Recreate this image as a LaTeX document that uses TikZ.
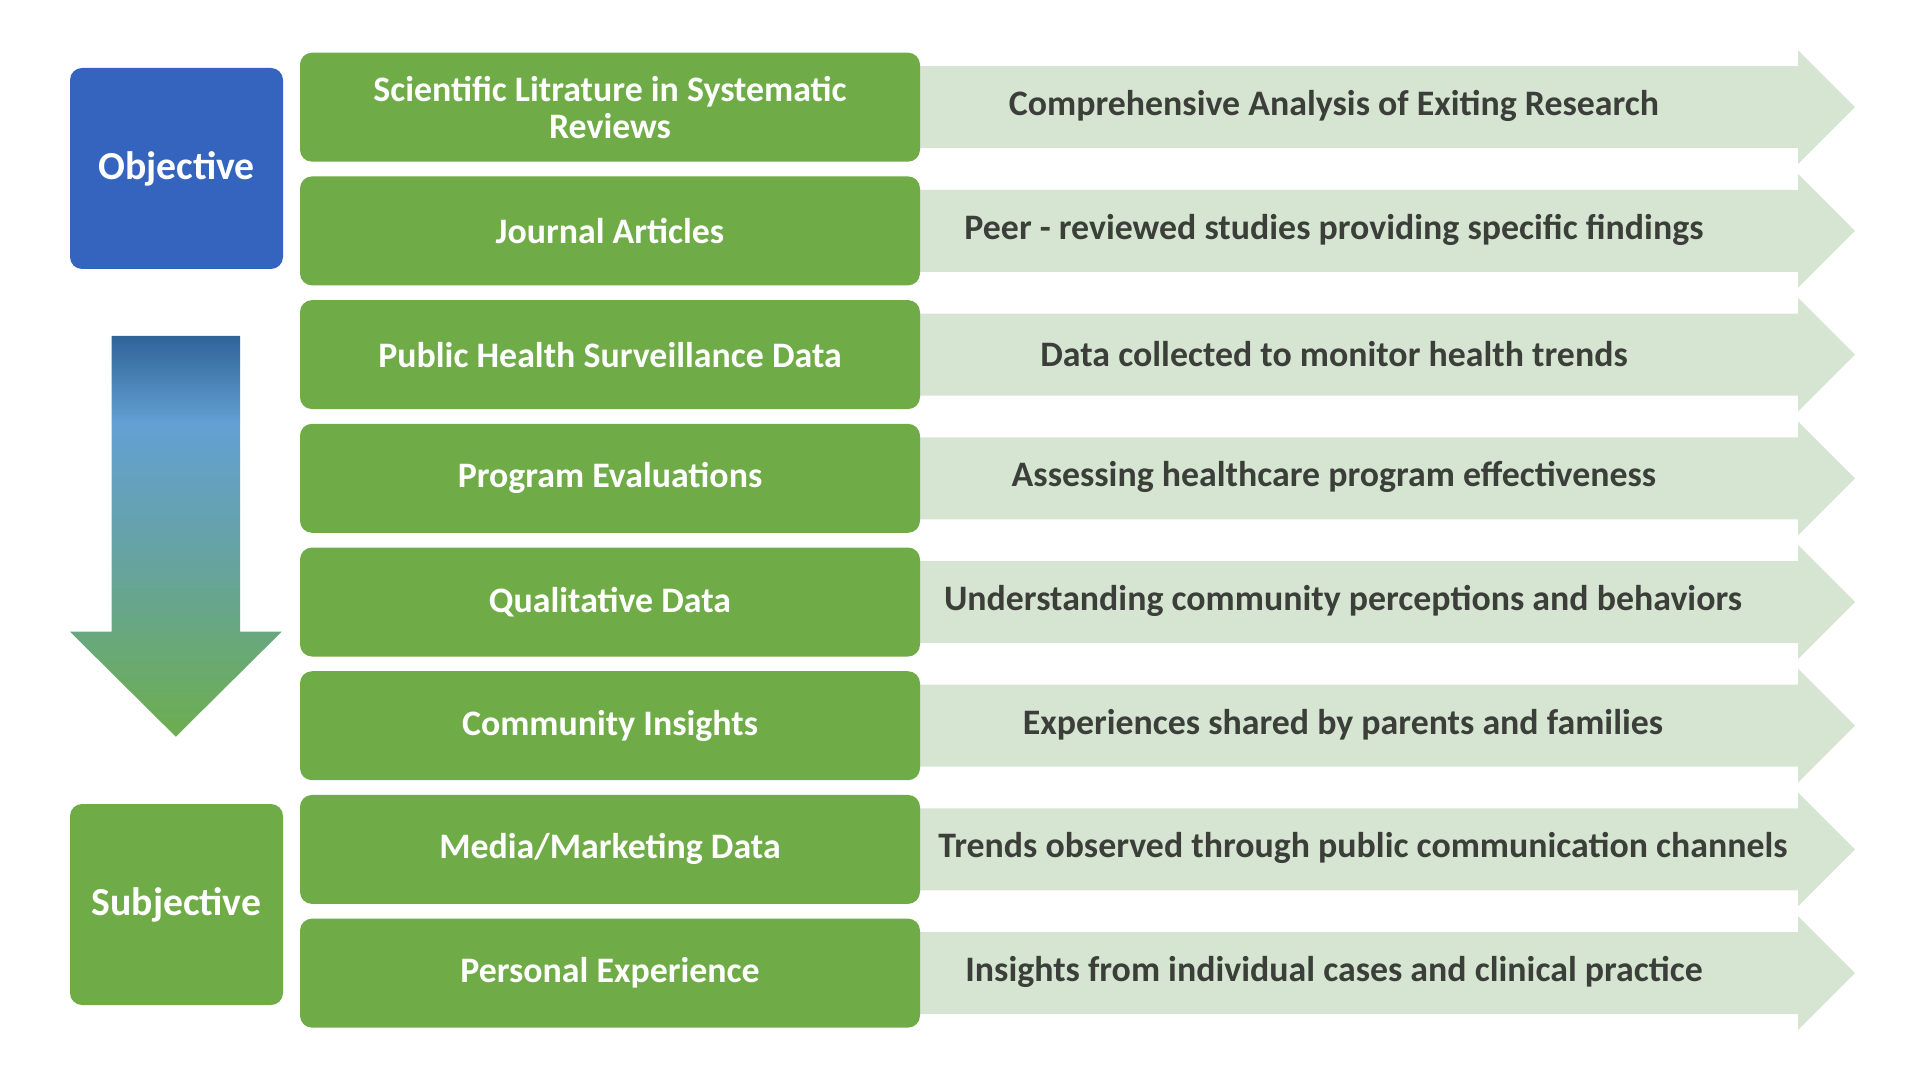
\documentclass[tikz,border=0pt]{standalone}
\usepackage{fontspec}
\setmainfont{Carlito}
\usetikzlibrary{positioning}
\definecolor{srcgreen}{HTML}{6FAB47}
\definecolor{palegreen}{HTML}{D6E5D2}
\definecolor{objblue}{HTML}{3564BE}
\definecolor{desctext}{HTML}{3B3E39}
\definecolor{shdark}{HTML}{2F6499}
\definecolor{shlight}{HTML}{64A0D3}
\definecolor{shteal}{HTML}{66A3A0}
\definecolor{shgreen}{HTML}{6CAE4E}
\pgfdeclareverticalshading{objtosubj}{100bp}{color(0bp)=(shgreen); color(25bp)=(shgreen); color(47bp)=(shteal); color(64bp)=(shlight); color(75bp)=(shdark); color(100bp)=(shdark)}
\begin{document}
\begin{tikzpicture}[
  srcbox/.style={fill=srcgreen, rounded corners=0.12cm, minimum width=6.2cm, minimum height=1.09cm,
    text=white, font=\fontsize{10.2}{10.5}\selectfont\bfseries, align=center, inner sep=0pt},
  sidebox/.style={rounded corners=0.12cm, minimum width=2.13cm, minimum height=2.01cm,
    text=white, font=\fontsize{11.3}{13}\selectfont\bfseries},
  desc/.style={text=desctext, font=\fontsize{10.2}{12}\selectfont\bfseries}
]
\useasboundingbox (0,0) rectangle (19.2,-10.8);
%
\foreach \i/\dx/\src/\txt in {
    0/0/{Scientific Litrature in Systematic\\Reviews}/{Comprehensive Analysis of Exiting Research},
    1/0/{Journal Articles}/{Peer - reviewed studies providing specific findings},
    2/0/{Public Health Surveillance Data}/{Data collected to monitor health trends},
    3/0/{Program Evaluations}/{Assessing healthcare program effectiveness},
    4/0.09/{Qualitative Data}/{Understanding community perceptions and behaviors},
    5/0.09/{Community Insights}/{Experiences shared by parents and families},
    6/0.29/{Media/Marketing Data}/{Trends observed through public communication channels},
    7/0/{Personal Experience}/{Insights from individual cases and clinical practice}}{
  \pgfmathsetmacro\yc{-1.072-1.237*\i}
  \fill[palegreen] (8.9,\yc+0.41) -- (17.98,\yc+0.41) -- (17.98,\yc+0.57) -- (18.55,\yc)
    -- (17.98,\yc-0.57) -- (17.98,\yc-0.41) -- (8.9,\yc-0.41) -- cycle;
  \node[srcbox] (src\i) at (6.1,\yc) {\src};
  \node[desc] (desc\i) at (13.34+\dx,\yc+0.01) {\txt};
}
%
\node[sidebox, fill=objblue] (objective) at (1.765,-1.685) {Objective};
\node[sidebox, fill=srcgreen] (subjective) at (1.765,-9.045) {Subjective};
%
\shade[shading=objtosubj] (1.117,-3.36) -- (2.40,-3.36) -- (2.40,-6.317) -- (2.817,-6.317)
  -- (1.758,-7.367) -- (0.70,-6.317) -- (1.117,-6.317) -- cycle;
%
\end{tikzpicture}
\end{document}
